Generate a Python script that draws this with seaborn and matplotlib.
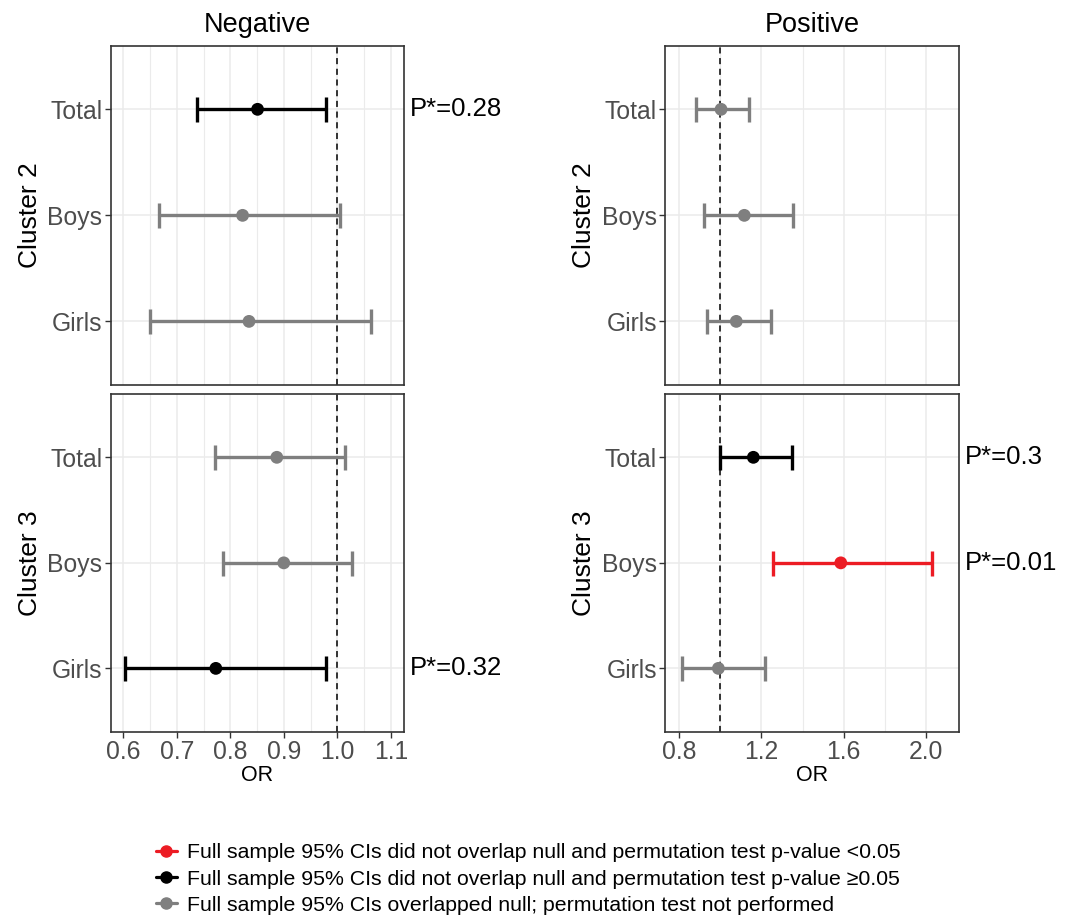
import numpy as np
import pandas as pd
import matplotlib
matplotlib.use('Agg')
import matplotlib.pyplot as plt
from matplotlib.lines import Line2D
from matplotlib.ticker import MultipleLocator
import matplotlib.transforms as mtrans
import seaborn as sns

sns.set_theme(style='white')
plt.rcParams['font.family'] = ['Liberation Sans', 'DejaVu Sans']
plt.rcParams['text.color'] = 'black'
plt.rcParams['axes.labelcolor'] = 'black'

# data
groups = ['Total', 'Boys', 'Girls']
directions = ['Negative', 'Positive']
clusters = ['Cluster 2', 'Cluster 3']

neg_c2_or = [0.851, 0.823, 0.835]
neg_c2_lo = [0.737, 0.667, 0.650]
neg_c2_hi = [0.979, 1.006, 1.063]
neg_c2_sig = ['nooverlap', 'overlap', 'overlap']
neg_c2_p = ['P*=0.28', '', '']

neg_c3_or = [0.887, 0.900, 0.773]
neg_c3_lo = [0.772, 0.787, 0.604]
neg_c3_hi = [1.014, 1.028, 0.978]
neg_c3_sig = ['overlap', 'overlap', 'nooverlap']
neg_c3_p = ['', '', 'P*=0.32']

pos_c2_or = [1.004, 1.117, 1.078]
pos_c2_lo = [0.884, 0.920, 0.936]
pos_c2_hi = [1.142, 1.356, 1.248]
pos_c2_sig = ['overlap', 'overlap', 'overlap']
pos_c2_p = ['', '', '']

pos_c3_or = [1.161, 1.586, 0.991]
pos_c3_lo = [1.000, 1.255, 0.813]
pos_c3_hi = [1.351, 2.028, 1.216]
pos_c3_sig = ['nooverlap', 'sig', 'overlap']
pos_c3_p = ['P*=0.3', 'P*=0.01', '']

sig_levels = ['sig', 'nooverlap', 'overlap']
sig_labels = ['Full sample 95% CIs did not overlap null and permutation test p-value <0.05',
              'Full sample 95% CIs did not overlap null and permutation test p-value \u22650.05',
              'Full sample 95% CIs overlapped null; permutation test not performed']
palette = {'sig': '#EC1C24', 'nooverlap': '#000000', 'overlap': '#7F7F7F'}

blocks = {
    ('Negative', 'Cluster 2'): (neg_c2_or, neg_c2_lo, neg_c2_hi, neg_c2_sig, neg_c2_p),
    ('Negative', 'Cluster 3'): (neg_c3_or, neg_c3_lo, neg_c3_hi, neg_c3_sig, neg_c3_p),
    ('Positive', 'Cluster 2'): (pos_c2_or, pos_c2_lo, pos_c2_hi, pos_c2_sig, pos_c2_p),
    ('Positive', 'Cluster 3'): (pos_c3_or, pos_c3_lo, pos_c3_hi, pos_c3_sig, pos_c3_p),
}
rows = []
for (d, c), (o, lo, hi, sg, p) in blocks.items():
    for i, g in enumerate(groups):
        rows.append(dict(direction=d, cluster=c, group=g, pos=i, OR=o[i],
                         lo=lo[i], hi=hi[i], sig=sg[i], p=p[i]))
df = pd.DataFrame(rows)

fig = plt.figure(figsize=(10.68, 9.21), dpi=100)
W, H = 1068, 921
col_x = {'Negative': (110.7, 404.0), 'Positive': (665.3, 959.3)}
row_y = {'Cluster 2': (45.7, 385.0), 'Cluster 3': (394.0, 731.7)}
xlims = {'Negative': (0.5765, 1.1247), 'Positive': (0.733, 2.162)}
major = {'Negative': 0.1, 'Positive': 0.4}
minor = {'Negative': 0.05, 'Positive': 0.2}

for d in directions:
    for c in clusters:
        x0, x1 = col_x[d]
        y0, y1 = row_y[c]
        ax = fig.add_axes([x0 / W, 1 - y1 / H, (x1 - x0) / W, (y1 - y0) / H])
        sub = df[(df.direction == d) & (df.cluster == c)]

        ax.xaxis.set_major_locator(MultipleLocator(major[d]))
        ax.xaxis.set_minor_locator(MultipleLocator(minor[d]))
        ax.grid(True, which='major', color='#EBEBEB', lw=1.1)
        ax.grid(True, which='minor', axis='x', color='#EBEBEB', lw=0.8)
        ax.set_axisbelow(True)
        ax.axvline(1.0, color='black', ls=(0, (4, 3)), lw=1.1, zorder=2)

        for _, r in sub.iterrows():
            ax.errorbar(r.OR, r.pos, xerr=[[r.OR - r.lo], [r.hi - r.OR]],
                        fmt='none', ecolor=palette[r.sig], elinewidth=2.4,
                        capsize=9, capthick=2.4, zorder=3)
        sns.scatterplot(data=sub, x='OR', y='pos', hue='sig', palette=palette,
                        s=85, edgecolor='none', legend=False, ax=ax, zorder=4)

        ax.set_xlim(xlims[d])
        ax.set_ylim(2.6, -0.6)
        ax.set_yticks(range(len(groups)))
        ax.set_yticklabels(groups)
        for s in ax.spines.values():
            s.set_color('#333333')
            s.set_linewidth(1.2)
        ax.tick_params(axis='both', which='major', length=4, width=1, color='#333333',
                       labelsize=17.8, labelcolor='#4D4D4D', pad=2, left=True, bottom=True)
        ax.tick_params(axis='x', which='minor', length=0)

        if c == 'Cluster 3':
            ax.set_xlabel('OR', fontsize=15.5, labelpad=1)
            if d == 'Negative':
                ax.set_xticks([0.6, 0.7, 0.8, 0.9, 1.0, 1.1])
                ax.set_xticklabels(['0.6', '0.7', '0.8', '0.9', '1.0', '1.1'])
            else:
                ax.set_xticks([0.8, 1.2, 1.6, 2.0])
                ax.set_xticklabels(['0.8', '1.2', '1.6', '2.0'])
        else:
            ax.set_xlabel('')
            ax.tick_params(axis='x', which='both', labelbottom=False, length=0)
            ax.set_title(d, fontsize=19.5, pad=10, color='black')

        ax.set_ylabel(c, fontsize=19, labelpad=4)

        trans = mtrans.blended_transform_factory(ax.transAxes, ax.transData)
        for _, r in sub.iterrows():
            if r.p:
                ax.text(1.02, r.pos, r.p, transform=trans, fontsize=18.5,
                        va='center', ha='left', color='black', clip_on=False)

handles = [Line2D([0], [0], color=palette[k], marker='o', markersize=8, lw=2.3)
           for k in sig_levels]
leg = fig.legend(handles, sig_labels, loc='center left', bbox_to_anchor=(147 / W, 1 - 879 / H),
                 frameon=False, fontsize=15.3, handlelength=1.0, handletextpad=0.5,
                 labelspacing=0.33, borderaxespad=0)
for t in leg.get_texts():
    t.set_color('black')

fig.savefig('out.png', dpi=100)
